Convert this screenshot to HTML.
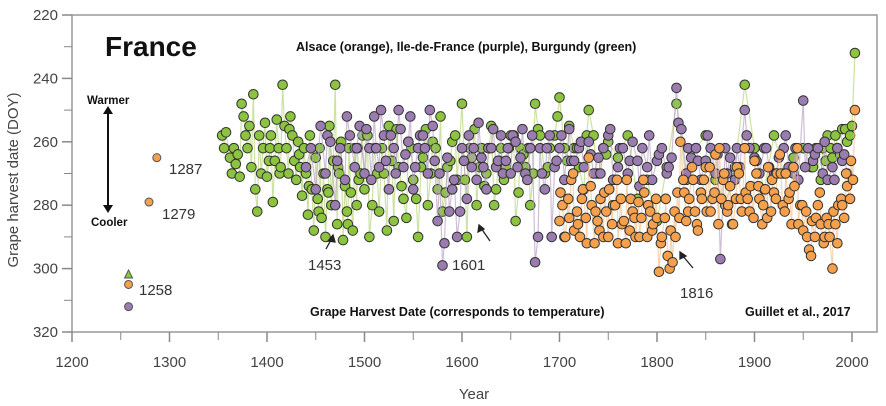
<!DOCTYPE html>
<html><head><meta charset="utf-8"><style>
body{margin:0;background:#fff;}
svg{display:block;font-family:"Liberation Sans",sans-serif;}
</style></head><body>
<svg id="chart" width="886" height="406">
<rect x="72" y="15" width="805" height="317" fill="#fff" stroke="#999" stroke-width="1.5"/>
<g id="axes"></g>
<g id="marks"></g>
<text x="105" y="56" font-size="28" font-weight="bold" fill="#111">France</text>
<text x="296" y="51" font-size="12.5" font-weight="bold" fill="#111">Alsace (orange), Ile-de-France (purple), Burgundy (green)</text>
<text x="310" y="316" font-size="12.5" font-weight="bold" fill="#111">Grape Harvest Date (corresponds to temperature)</text>
<text x="745" y="316" font-size="12.5" font-weight="bold" fill="#111">Guillet et al., 2017</text>
<text x="87" y="104" font-size="11.5" font-weight="bold" fill="#111">Warmer</text>
<text x="91" y="226" font-size="11.5" font-weight="bold" fill="#111">Cooler</text>
<g>
<line x1="108" y1="112" x2="108" y2="207" stroke="#111" stroke-width="2"/>
<polygon points="103,114 113,114 108,106" fill="#111"/>
<polygon points="103,205 113,205 108,213" fill="#111"/>
</g>
<text x="-180" y="18" transform="rotate(-90)" font-size="15" fill="#444" text-anchor="middle">Grape harvest date (DOY)</text>
<text x="474" y="399" font-size="15" fill="#444" text-anchor="middle">Year</text>
<g font-size="15" fill="#333">
<text x="169" y="174">1287</text>
<text x="162" y="219">1279</text>
<text x="139" y="295">1258</text>
<text x="308" y="270">1453</text>
<text x="452" y="270">1601</text>
<text x="680" y="298">1816</text>
</g>
<g stroke="#222" stroke-width="1.3">
<line x1="332" y1="238" x2="326" y2="249"/><polygon points="333,235 328,241 335,242" fill="#222"/>
<line x1="481" y1="228" x2="490" y2="241"/><polygon points="479,225 478,232 484,229" fill="#222"/>
<line x1="682" y1="255" x2="693" y2="268"/><polygon points="680,252 680,259 686,256" fill="#222"/>
</g>
</svg>
<script>
const xTicks=[1200,1300,1400,1500,1600,1700,1800,1900,2000];
const yTicks=[220,240,260,280,300,320];
const greenYears=[1354,1356,1358,1362,1364,1366,1368,1370,1372,1374,1376,1378,1380,1382,1384,1386,1388,1390,1392,1394,1396,1398,1400,1402,1404,1406,1408,1410,1412,1414,1416,1418,1420,1422,1424,1426,1428,1430,1432,1434,1436,1438,1440,1442,1444,1446,1448,1450,1452,1454,1456,1458,1460,1462,1464,1466,1468,1470,1472,1474,1476,1478,1480,1482,1484,1486,1488,1490,1492,1494,1496,1498,1500,1505,1510,1515,1520,1525,1530,1535,1540,1545,1550,1555,1560,1565,1570,1575,1580,1585,1590,1595,1600,1605,1610,1615,1620,1625,1630,1635,1640,1645,1650,1655,1660,1665,1670,1675,1680,1685,1690,1695,1700,1705,1710,1715,1720,1725,1730,1735,1740,1745,1750,1760,1770,1780,1790,1800,1810,1820,1830,1840,1850,1860,1870,1880,1890,1900,1910,1920,1930,1940,1950,1960,1970,1975,1980,1985,1990,1995,2000,2003];
const greenValues=[258,262,257,265,270,262,267,264,271,248,252,258,262,255,268,245,275,282,258,270,262,254,271,266,258,279,266,253,262,268,242,255,262,270,252,258,266,272,260,268,277,262,270,283,258,275,288,265,278,262,284,270,290,275,255,280,266,242,286,270,260,291,274,282,262,276,288,262,280,272,270,258,275,290,262,282,270,255,285,268,278,260,272,290,265,280,260,275,282,268,260,272,248,290,265,280,262,270,255,275,262,268,258,285,262,268,280,248,258,270,262,258,246,262,255,262,268,275,250,258,270,262,260,265,258,278,272,285,268,248,272,262,258,272,280,268,242,262,275,258,270,265,262,268,262,258,265,262,256,260,255,232];
const greenExtraYears=[1403,1413,1423,1433,1443,1453,1463,1473,1483,1493,1503,1508,1513,1518,1523,1528,1533,1538,1543,1548,1553,1558,1563,1568,1573,1578,1583,1588,1593,1603,1608,1613,1618,1623,1628,1633,1638,1643,1648,1653,1658,1663,1668,1673,1678,1688,1698,1708,1718,1728,1738,1748,1958,1963,1968,1973,1978,1983,1988,1993,1998];
const greenExtraValues=[262,270,256,264,274,282,276,268,286,262,258,280,270,262,288,266,256,274,284,262,278,268,256,270,262,252,276,266,258,272,262,256,268,274,262,280,266,272,262,258,276,264,262,270,256,268,252,266,262,258,270,264,268,262,272,266,262,258,264,256,258];
const purpleYears=[1440,1445,1450,1455,1460,1465,1470,1475,1480,1485,1490,1495,1500,1505,1510,1515,1520,1525,1530,1535,1540,1545,1550,1555,1560,1565,1570,1575,1580,1582,1585,1590,1595,1598,1600,1605,1610,1615,1620,1625,1630,1635,1640,1645,1650,1655,1660,1665,1670,1675,1678,1680,1685,1690,1695,1700,1705,1710,1715,1720,1725,1730,1735,1740,1745,1750,1755,1760,1765,1770,1775,1780,1785,1790,1795,1800,1805,1810,1815,1820,1825,1830,1835,1840,1845,1850,1855,1860,1865,1870,1875,1880,1885,1890,1895,1900,1905,1910,1915,1920,1925,1930,1935,1940,1945,1950,1955,1960,1965,1970,1975,1980,1985,1990,1995];
const purpleValues=[268,262,275,255,270,260,280,262,272,258,268,255,270,262,252,268,258,275,262,250,268,260,275,262,258,270,255,285,299,292,265,275,290,282,262,278,268,272,265,275,262,268,258,266,270,260,265,270,262,298,290,262,275,258,268,262,272,256,266,262,268,260,270,265,262,258,272,268,262,270,260,266,262,268,272,266,262,270,265,243,256,270,265,262,272,266,262,270,297,262,265,272,268,250,262,265,270,262,268,270,265,262,268,270,272,247,262,266,262,270,272,268,262,266,270];
const purpleExtraYears=[1462,1472,1482,1492,1502,1507,1512,1517,1522,1527,1532,1537,1542,1547,1552,1557,1562,1567,1572,1577,1587,1592,1602,1607,1612,1617,1622,1627,1632,1637,1642,1647,1652,1657,1662,1667,1672,1682,1687,1692,1697,1702,1712,1722,1732,1742,1752,1762,1772,1782,1792,1802,1812,1822,1832,1842,1852,1862,1872,1882,1892,1902,1912,1922,1932,1942,1952,1962,1972,1982,1992];
const purpleExtraValues=[258,266,252,262,256,272,262,250,266,258,270,256,264,252,268,258,262,250,266,270,282,272,266,258,262,254,268,262,256,266,270,262,258,268,256,272,258,270,262,290,266,258,266,260,264,270,256,262,266,274,258,264,268,254,262,266,258,264,270,262,258,266,262,270,258,262,268,264,260,272,264];
const orangeYears=[1700,1703,1706,1709,1712,1715,1718,1721,1724,1727,1730,1733,1736,1739,1742,1745,1748,1751,1754,1757,1760,1763,1766,1769,1772,1775,1778,1781,1784,1787,1790,1793,1796,1799,1802,1805,1808,1811,1814,1816,1818,1821,1824,1827,1830,1833,1836,1839,1842,1845,1848,1851,1854,1857,1860,1863,1866,1869,1872,1875,1878,1881,1884,1887,1890,1893,1896,1899,1902,1905,1908,1911,1914,1917,1920,1923,1926,1929,1932,1935,1938,1941,1944,1947,1950,1953,1956,1959,1962,1965,1968,1971,1974,1977,1980,1983,1986,1989,1992,1995,1998,2001,2003];
const orangeValues=[285,280,290,278,272,288,282,290,275,284,265,280,292,285,278,290,282,275,286,280,292,278,285,272,288,282,290,279,284,276,290,282,286,278,301,290,284,296,288,298,282,276,260,272,285,278,268,282,288,276,272,282,268,278,264,286,278,270,282,274,286,278,270,282,262,278,274,284,270,278,286,275,268,282,276,270,264,280,270,278,286,274,262,280,288,282,294,285,290,280,286,292,284,290,300,286,280,278,284,274,278,272,250];
const orangeExtraYears=[1701,1705,1710,1714,1719,1723,1728,1732,1737,1741,1746,1750,1755,1759,1764,1768,1773,1777,1782,1786,1791,1795,1800,1804,1809,1813,1819,1823,1828,1832,1837,1841,1846,1850,1855,1859,1864,1868,1873,1877,1882,1886,1891,1895,1900,1904,1909,1913,1918,1922,1927,1931,1936,1940,1945,1949,1954,1958,1963,1967,1972,1976,1981,1985,1990,1994,1999];
const orangeExtraValues=[276,290,284,270,286,278,292,274,282,288,276,290,280,272,286,292,278,284,290,272,280,288,284,292,278,300,290,284,276,282,272,286,278,268,282,276,262,272,280,286,268,278,276,282,266,274,280,284,272,278,270,282,276,268,286,280,290,296,284,276,290,286,282,292,280,270,266];
const earlyYears=[1258,1279,1287];
const earlyOrange=[305,279,265];
const earlyPurple=[312];
const earlyGreen=[302];

const NS="http://www.w3.org/2000/svg";
const x=y=>72+(y-1200)*0.975;
const yv=v=>15+(v-220)*3.17;
const axes=document.getElementById('axes'), marks=document.getElementById('marks');
function mk(tag,attrs,parent){const e=document.createElementNS(NS,tag);for(const k in attrs)e.setAttribute(k,attrs[k]);parent.appendChild(e);return e;}
xTicks.forEach((t,i)=>{
  const l=mk('line',{x1:x(t),x2:x(t),y1:332,y2:342,stroke:'#888','stroke-width':1.5},axes);
  
  
  if(i<xTicks.length-1){const m=mk('line',{x1:x(t+50),x2:x(t+50),y1:332,y2:340,stroke:'#888'},axes);
  
  }
  const tx=mk('text',{x:x(t),y:367,'font-size':15,fill:'#444','text-anchor':'middle'},axes);tx.textContent=t;
  
  
});
yTicks.forEach((t,i)=>{
  const l=mk('line',{x1:62,x2:72,y1:yv(t),y2:yv(t),stroke:'#888','stroke-width':1.5},axes);
  
  
  if(i<yTicks.length-1){const m=mk('line',{x1:64,x2:72,y1:yv(t+10),y2:yv(t+10),stroke:'#888'},axes);
  
  }
  const tx=mk('text',{x:58,y:yv(t)+5,'font-size':15,fill:'#444','text-anchor':'end'},axes);tx.textContent=t;
  
  
});
function merge(ya,va,yb,vb){const p=ya.map((y,i)=>[y,va[i]]).concat(yb.map((y,i)=>[y,vb[i]]));p.sort((a,b)=>a[0]-b[0]);return p;}
function series(pts,fill,lineCol,name){
  const pl=mk('polyline',{points:pts.map(p=>x(p[0])+','+yv(p[1])).join(' '),fill:'none',stroke:lineCol,'stroke-width':1.2,opacity:0.7},marks);
  
  
  pts.forEach(p=>{
    const c=mk('circle',{cx:x(p[0]),cy:yv(p[1]),r:4.8,fill:fill,stroke:'#333','stroke-width':1},marks);
    
    
  });
}
series(merge(greenYears,greenValues,greenExtraYears,greenExtraValues),'#8cc43f','#b8d67a','burgundy');
series(merge(purpleYears,purpleValues,purpleExtraYears,purpleExtraValues),'#9a7cb0','#b9a3c8','ile-de-france');
series(merge(orangeYears,orangeValues,orangeExtraYears,orangeExtraValues),'#f5a04c','#f3c28e','alsace');
earlyOrange.forEach((v,i)=>{
  const c=mk('circle',{cx:x(earlyYears[i]),cy:yv(v),r:4,fill:'#f5a04c',stroke:'#555','stroke-width':1},marks);
  
  
});
earlyPurple.forEach(v=>{
  const c=mk('circle',{cx:x(1258),cy:yv(v),r:4,fill:'#9a7cb0',stroke:'#555','stroke-width':1},marks);
  
  
});
earlyGreen.forEach(v=>{
  const cx=x(1258),cy=yv(v);
  const t=mk('polygon',{points:`${cx-4},${cy+3} ${cx+4},${cy+3} ${cx},${cy-5}`,fill:'#8cc43f',stroke:'#555','stroke-width':1},marks);
  
  
});
</script>
</body></html>
